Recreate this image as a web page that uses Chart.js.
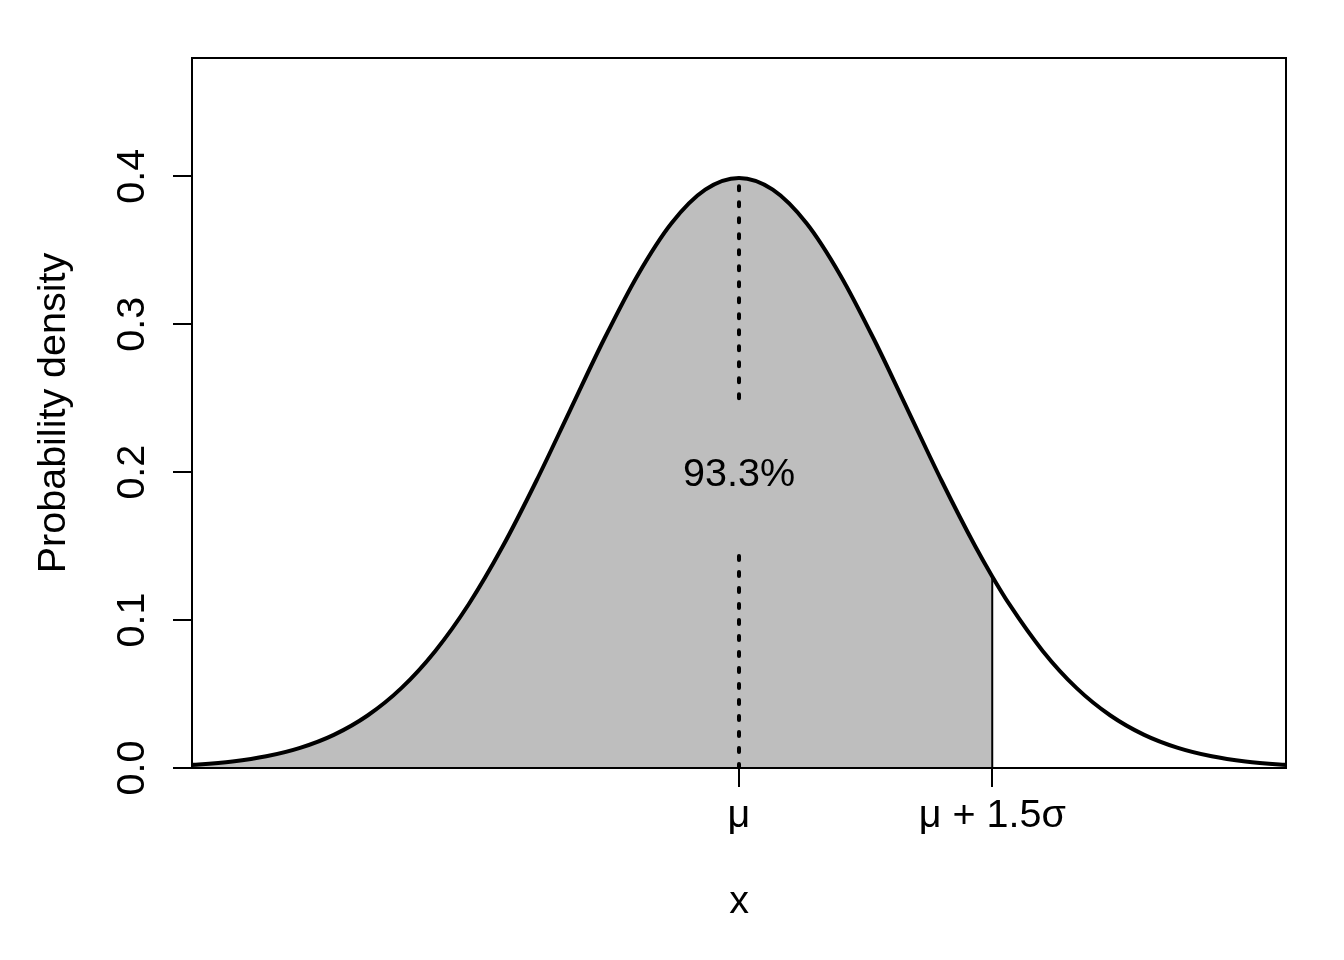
<!DOCTYPE html>
<html>
<head>
<meta charset="utf-8">
<style>
  html, body { margin: 0; padding: 0; background: #ffffff; }
  canvas { display: block; }
</style>
<script src="https://cdn.jsdelivr.net/npm/chart.js@4/dist/chart.umd.min.js"></script>
</head>
<body>
<canvas id="chart" width="1344" height="960"></canvas>
<script>
// ---- data ----
const xValues = [-3.4,-3.2,-3.0,-2.8,-2.6,-2.4,-2.2,-2.0,-1.8,-1.6,-1.4,-1.2,-1.0,-0.8,-0.6,-0.4,-0.2,0,
                 0.2,0.4,0.6,0.8,1.0,1.2,1.4,1.5,1.6,1.8,2.0,2.2,2.4,2.6,2.8,3.0,3.2,3.4];
const densityValues = [0.0012,0.0024,0.0044,0.0079,0.0136,0.0224,0.0355,0.0540,0.0790,0.1109,0.1497,0.1942,0.2420,0.2897,0.3332,0.3683,0.3910,0.3989,
                       0.3910,0.3683,0.3332,0.2897,0.2420,0.1942,0.1497,0.1295,0.1109,0.0790,0.0540,0.0355,0.0224,0.0136,0.0079,0.0044,0.0024,0.0012];
const shadeLimit = 1.5;
const meanValue = 0;
const meanLineLower = [0, 0.15];
const meanLineUpper = [0.25, 0.3989];
const areaLabel = '93.3%';
const areaLabelPos = [0, 0.2];
const yTicks = [0, 0.1, 0.2, 0.3, 0.4];
const yTickLabels = ['0.0', '0.1', '0.2', '0.3', '0.4'];
const xTicks = [0, 1.5];
const xTickLabels = ['\u03BC', '\u03BC + 1.5\u03C3'];
const xRange = [-3.24, 3.24];
const yRange = [0, 0.48];
const xTitle = 'x';
const yTitle = 'Probability density';

// ---- build datasets ----
const curvePoints = xValues.map((x, i) => ({x: x, y: densityValues[i]}));
const shadedPoints = curvePoints.filter(p => p.x <= shadeLimit);
const shadeTop = densityValues[xValues.indexOf(shadeLimit)];
const edgePoints = [{x: shadeLimit, y: 0}, {x: shadeLimit, y: shadeTop}];
const lowerMean = meanLineLower.map(v => ({x: meanValue, y: v}));
const upperMean = meanLineUpper.map(v => ({x: meanValue, y: v}));

const FONT = "'Liberation Sans', Arial, Helvetica, sans-serif";
const FS = 39.5;

const boxPlugin = {
  id: 'boxAndLabel',
  afterDatasetsDraw(chart) {
    const {ctx, scales} = chart;
    ctx.save();
    ctx.fillStyle = '#000';
    ctx.font = FS + 'px ' + FONT;
    ctx.textAlign = 'center';
    ctx.textBaseline = 'middle';
    ctx.fillText(areaLabel, scales.x.getPixelForValue(areaLabelPos[0]), scales.y.getPixelForValue(areaLabelPos[1]) + 3);
    ctx.restore();
  },
  afterDraw(chart) {
    const {ctx, chartArea} = chart;
    ctx.save();
    ctx.strokeStyle = '#000';
    ctx.lineWidth = 2;
    ctx.strokeRect(chartArea.left, chartArea.top, chartArea.right - chartArea.left, chartArea.bottom - chartArea.top);
    ctx.restore();
  }
};

new Chart(document.getElementById('chart'), {
  type: 'line',
  data: {
    datasets: [
      {
        label: 'density',
        data: curvePoints,
        borderColor: '#000',
        borderWidth: 4,
        pointRadius: 0,
        fill: false,
        cubicInterpolationMode: 'monotone',
        clip: 0,
        order: 0
      },
      {
        label: 'mean lower',
        data: lowerMean,
        borderColor: '#000',
        borderWidth: 4,
        borderDash: [4, 12],
        borderCapStyle: 'round',
        pointRadius: 0,
        fill: false,
        clip: 0,
        order: 1
      },
      {
        label: 'mean upper',
        data: upperMean,
        borderColor: '#000',
        borderWidth: 4,
        borderDash: [4, 12],
        borderCapStyle: 'round',
        pointRadius: 0,
        fill: false,
        clip: 0,
        order: 1
      },
      {
        label: 'edge',
        data: edgePoints,
        borderColor: '#000',
        borderWidth: 2,
        pointRadius: 0,
        fill: false,
        clip: 0,
        order: 2
      },
      {
        label: 'shaded',
        data: shadedPoints,
        borderWidth: 0,
        borderColor: 'rgba(0,0,0,0)',
        backgroundColor: '#BEBEBE',
        pointRadius: 0,
        fill: 'origin',
        cubicInterpolationMode: 'monotone',
        clip: 0,
        order: 3
      }
    ]
  },
  options: {
    responsive: false,
    animation: false,
    events: [],
    layout: { padding: { top: 58, right: 58, bottom: 0, left: 0 } },
    plugins: { legend: { display: false }, tooltip: { enabled: false }, title: { display: false } },
    scales: {
      x: {
        type: 'linear',
        min: xRange[0],
        max: xRange[1],
        afterBuildTicks(scale) { scale.ticks = xTicks.map(v => ({value: v})); },
        afterFit(scale) { scale.height = 192; },
        ticks: {
          callback: (v, i) => xTickLabels[i],
          font: { family: FONT, size: FS },
          color: '#000',
          padding: 5.5,
          maxRotation: 0,
          minRotation: 0,
          autoSkip: false
        },
        grid: { drawOnChartArea: false, drawTicks: true, tickLength: 19, color: '#000', lineWidth: 2 },
        border: { display: true, color: '#000', width: 2 },
        title: { display: true, text: xTitle, color: '#000', font: { family: FONT, size: FS }, padding: { top: 0, bottom: 34 } }
      },
      y: {
        type: 'linear',
        min: yRange[0],
        max: yRange[1],
        afterBuildTicks(scale) { scale.ticks = yTicks.map(v => ({value: v})); },
        afterFit(scale) { scale.width = 192; },
        ticks: {
          callback: (v, i) => yTickLabels[i],
          font: { family: FONT, size: FS },
          color: '#000',
          padding: 12,
          minRotation: 90,
          maxRotation: 90,
          crossAlign: 'center',
          autoSkip: false
        },
        grid: { drawOnChartArea: false, drawTicks: true, tickLength: 19, color: '#000', lineWidth: 2 },
        border: { display: true, color: '#000', width: 2 },
        title: { display: true, text: yTitle, color: '#000', font: { family: FONT, size: FS }, padding: { top: 30.6, bottom: 0 } }
      }
    }
  },
  plugins: [boxPlugin]
});
</script>
</body>
</html>
